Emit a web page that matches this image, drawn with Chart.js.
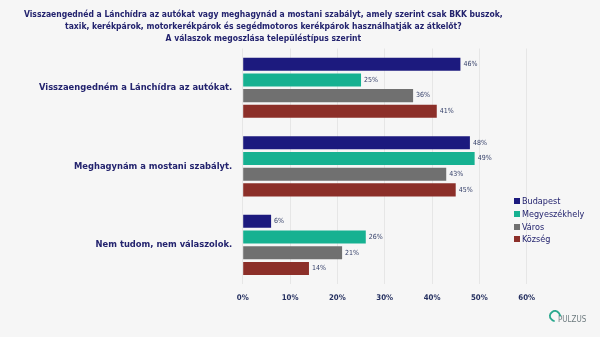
<!DOCTYPE html>
<html lang="hu">
<head>
<meta charset="utf-8">
<script src="https://cdn.jsdelivr.net/npm/chart.js@4"></script>
<style>
  html, body { margin: 0; padding: 0; background: #f6f6f6; }
  #wrap { position: relative; width: 600px; height: 337px; }
  #chart { display: block; }
  .legend { position: absolute; left: 514px; top: 195px; font: 9px "DejaVu Sans Condensed", "DejaVu Sans", sans-serif; color: #23236e; }
  .legend div { height: 12.8px; line-height: 12.8px; white-space: nowrap; }
  .legend i { display: inline-block; width: 6px; height: 6px; margin-right: 2px; vertical-align: 0px; }
  .logo { position: absolute; left: 558px; top: 315px; font: 8px "DejaVu Sans Condensed", "DejaVu Sans", sans-serif; color: #6f7c80; }
  .logo b { position: absolute; left: -9px; top: -5px; width: 8px; height: 8px; border: 2px solid #2aa88e; border-bottom-color: transparent; border-radius: 50%; transform: rotate(-40deg); }
</style>
</head>
<body>
<div id="wrap">
  <canvas id="chart" width="600" height="337"></canvas>
  <div class="legend" id="legend"></div>
  <div class="logo"><b></b>PULZUS</div>
</div>
<script>
// Lánchíd – válaszok településtípus szerint
const valaszok = ['Visszaengedném a Lánchídra az autókat.', 'Meghagynám a mostani szabályt.', 'Nem tudom, nem válaszolok.'];
const telepulesek = ['Budapest', 'Megyeszékhely', 'Város', 'Község'];
const budapest      = [46, 48, 6];
const megyeszekhely = [25, 49, 26];
const varos         = [36, 43, 21];
const kozseg        = [41, 45, 14];
const xTicks = [0, 10, 20, 30, 40, 50, 60];

const SZINEK = ['#1c1a7e', '#16b191', '#707070', '#8c2f29'];
const FONT = '"DejaVu Sans Condensed", "DejaVu Sans", sans-serif';

const cimSorok = [
  'Visszaengednéd a Lánchídra az autókat vagy meghagynád a mostani szabályt, amely szerint csak BKK buszok,',
  'taxik, kerékpárok, motorkerékpárok és segédmotoros kerékpárok használhatják az átkelőt?',
  'A válaszok megoszlása településtípus szerint',
];

// értékcímkék a sávok végén
const ertekCimkek = {
  id: 'ertekCimkek',
  afterDatasetsDraw(chart) {
    const ctx = chart.ctx;
    ctx.save();
    ctx.font = '7px ' + FONT;
    ctx.fillStyle = '#35406a';
    ctx.textBaseline = 'middle';
    chart.data.datasets.forEach((ds, i) => {
      chart.getDatasetMeta(i).data.forEach((bar, j) => {
        ctx.fillText(ds.data[j] + '%', bar.x + 3, bar.y);
      });
    });
    ctx.restore();
  },
};

const sorozatok = [budapest, megyeszekhely, varos, kozseg];

const chart = new Chart(document.getElementById('chart'), {
  type: 'bar',
  data: {
    labels: valaszok,
    datasets: telepulesek.map((nev, i) => ({
      label: nev,
      data: sorozatok[i],
      backgroundColor: SZINEK[i],
      categoryPercentage: 0.8,
      barPercentage: 0.83,
    })),
  },
  options: {
    indexAxis: 'y',
    responsive: false,
    animation: false,
    layout: { padding: { left: 0, right: 73.3, top: 0, bottom: 25.5 } },
    plugins: {
      legend: { display: false },
      tooltip: { enabled: false },
      title: {
        display: true,
        text: cimSorok,
        color: '#23236e',
        font: { family: FONT, size: 8.5, weight: 'bold', lineHeight: 1.38 },
        padding: { top: 9, bottom: 4.3 },
      },
    },
    scales: {
      x: {
        min: 0,
        max: 60,
        afterBuildTicks: s => { s.ticks = xTicks.map(v => ({ value: v })); },
        grid: { color: '#e6e6e6', drawTicks: false },
        border: { display: false },
        ticks: { color: '#253060', padding: 9, font: { family: FONT, size: 7.8, weight: 'bold' }, callback: v => v + '%' },
      },
      y: {
        grid: { display: false, drawTicks: false },
        border: { display: false },
        afterFit: s => { s.width = 242.7; },
        ticks: { color: '#23236e', padding: 10.5, font: { family: FONT, size: 9.3, weight: 'bold' } },
      },
    },
  },
  plugins: [ertekCimkek],
});

document.getElementById('legend').innerHTML = telepulesek
  .map((nev, i) => `<div><i style="background:${SZINEK[i]}"></i>${nev}</div>`)
  .join('');
</script>
</body>
</html>
